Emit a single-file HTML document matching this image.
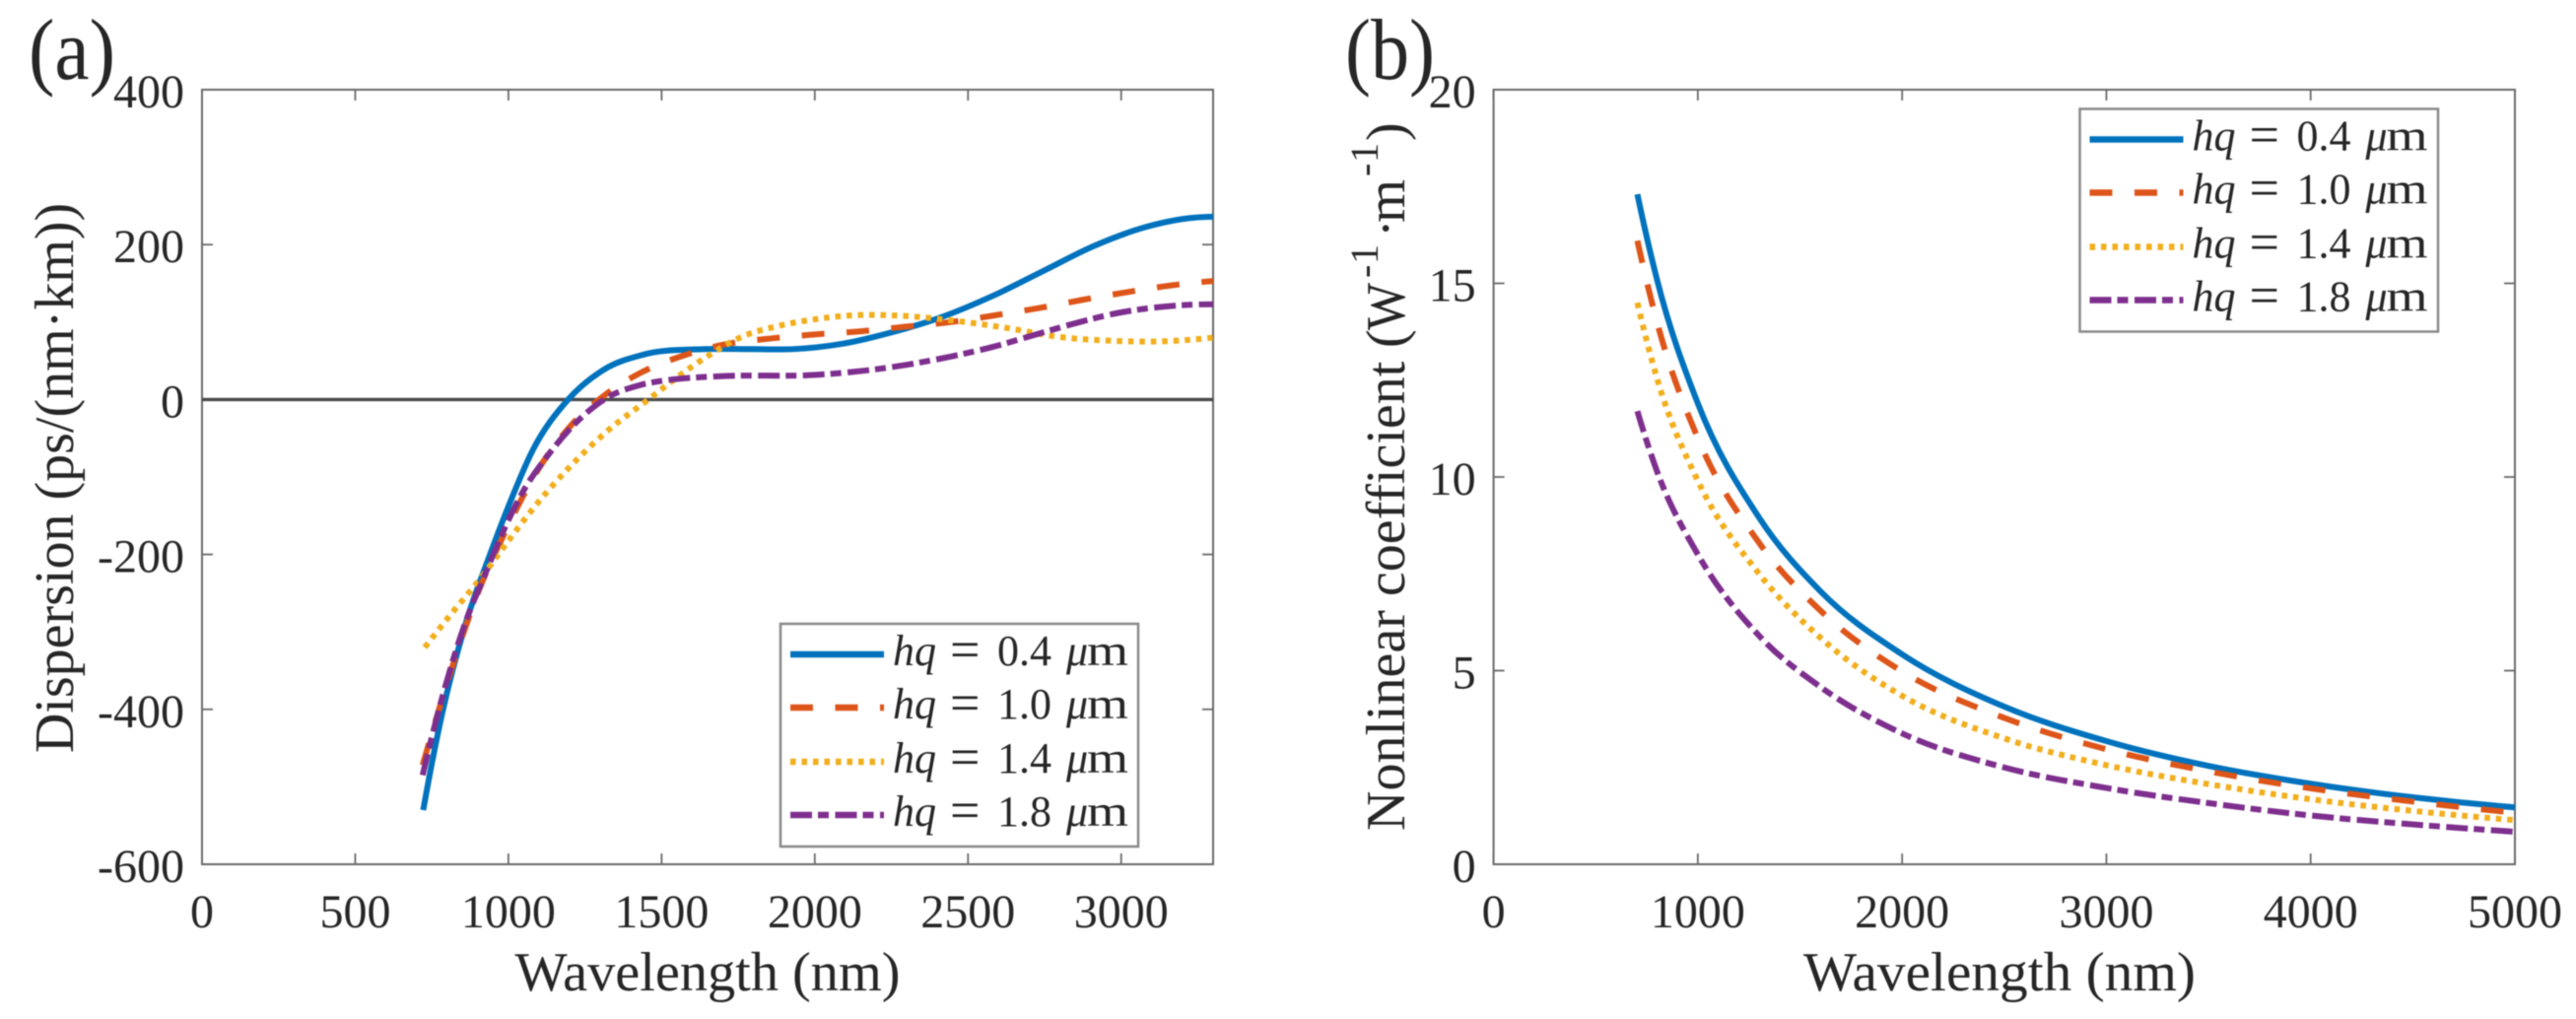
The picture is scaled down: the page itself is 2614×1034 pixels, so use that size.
<!DOCTYPE html>
<html lang="en">
<head>
<meta charset="utf-8">
<title>Dispersion and nonlinear coefficient charts</title>
<style>
html,body{margin:0;padding:0;background:#fff;}
body{width:2614px;height:1034px;overflow:hidden;}
svg{display:block;filter:blur(0.55px);}
text{font-family:"Liberation Serif","DejaVu Serif",serif;fill:#262626;}
</style>
</head>
<body>
<svg id="fig" width="2614" height="1034" viewBox="0 0 2614 1034" xmlns="http://www.w3.org/2000/svg">
  <rect x="0" y="0" width="2614" height="1034" fill="#fff"></rect>
  <text x="29" y="80" font-size="88" textLength="88" lengthAdjust="spacingAndGlyphs" fill="#1a1a1a">(a)</text>
  <text x="1365" y="80" font-size="88" textLength="91" lengthAdjust="spacingAndGlyphs" fill="#1a1a1a">(b)</text>
  <text x="718" y="1005" font-size="56" text-anchor="middle" textLength="391" lengthAdjust="spacingAndGlyphs">Wavelength (nm)</text>
  <text x="2029" y="1005" font-size="56" text-anchor="middle" textLength="398" lengthAdjust="spacingAndGlyphs">Wavelength (nm)</text>
  <text transform="translate(74,485) rotate(-90)" font-size="56" text-anchor="middle">Dispersion (ps/(nm·km))</text>
  <text transform="translate(1425,843) rotate(-90)" font-size="56"><tspan x="0" y="0">Nonlinear coefficient</tspan><tspan x="490" y="0">(</tspan><tspan x="508" y="0" textLength="48" lengthAdjust="spacingAndGlyphs">W</tspan><tspan x="561" y="-27" font-size="40">-</tspan><tspan x="575" y="-27" font-size="40">1</tspan><tspan x="602" y="0">·</tspan><tspan x="617" y="0" textLength="44" lengthAdjust="spacingAndGlyphs">m</tspan><tspan x="664" y="-27" font-size="40">-</tspan><tspan x="678" y="-27" font-size="40">1</tspan><tspan x="700" y="0">)</tspan></text>
</svg>
<script>
// ---------- Panel (a) data: dispersion, ps/(nm km) ----------
const aXTicks = [0, 500, 1000, 1500, 2000, 2500, 3000];
const aYTicks = [-600, -400, -200, 0, 200, 400];
const aBlueX = [722, 784, 860, 940, 1000, 1080, 1195, 1309, 1441, 1638, 1800, 1926, 2090, 2254, 2418, 2582, 2746, 2910, 3074, 3200, 3300];
const aBlueY = [-530, -405, -290, -200, -138, -65, 0, 38, 58, 65, 65, 65, 72, 87, 107, 134, 166, 198, 222, 233, 236];
const aOrangeX = [720, 775, 817, 907, 981, 1104, 1194, 1319, 1434, 1573, 1704, 1861, 2000, 2148, 2296, 2444, 2592, 2730, 2878, 3025, 3157, 3300];
const aOrangeY = [-472, -398, -345, -243, -178, -86, -38, 7, 35, 57, 71, 79, 84, 88, 94, 100, 109, 118, 129, 139, 147, 153];
const aYellowX = [727, 817, 907, 997, 1080, 1193, 1325, 1457, 1555, 1654, 1768, 1870, 1974, 2138, 2286, 2450, 2632, 2794, 2960, 3122, 3300];
const aYellowY = [-320, -275, -232, -184, -141, -90, -40, 0, 30, 57, 82, 94, 102, 109, 108, 102, 92, 81, 76, 75, 80];
const aPurpleX = [720, 785, 866, 915, 981, 1046, 1129, 1228, 1325, 1424, 1539, 1687, 2010, 2156, 2302, 2450, 2582, 2714, 2846, 2993, 3141, 3300];
const aPurpleY = [-485, -383, -281, -234, -172, -120, -72, -27, 3, 18, 26, 30, 32, 37, 45, 56, 68, 83, 98, 112, 120, 123];

// ---------- Panel (b) data: nonlinear coefficient, 1/(W m) ----------
const bXTicks = [0, 1000, 2000, 3000, 4000, 5000];
const bYTicks = [0, 5, 10, 15, 20];
const bBlueX = [704, 800, 1000, 1300, 1600, 2000, 2500, 3000, 3500, 4000, 4500, 5000];
const bBlueY = [17.3, 15.1, 11.9, 8.95, 7.05, 5.42, 4.07, 3.18, 2.54, 2.08, 1.73, 1.47];
const bOrangeX = [704, 800, 1000, 1300, 1600, 2000, 2500, 3000, 3500, 4000, 4500, 5000];
const bOrangeY = [16.1, 14.0, 11.0, 8.3, 6.55, 4.98, 3.78, 2.97, 2.40, 1.96, 1.62, 1.33];
const bYellowX = [704, 800, 1000, 1300, 1600, 2000, 2500, 3000, 3500, 4000, 4500, 5000];
const bYellowY = [14.5, 12.55, 9.9, 7.5, 5.85, 4.35, 3.25, 2.56, 2.07, 1.68, 1.38, 1.14];
const bPurpleX = [704, 800, 1000, 1300, 1600, 2000, 2500, 3000, 3500, 4000, 4500, 5000];
const bPurpleY = [11.7, 10.15, 8.0, 5.9, 4.58, 3.38, 2.5, 1.97, 1.58, 1.26, 1.03, 0.84];

const legendValues = ['0.4', '1.0', '1.4', '1.8'];
const seriesKeys = ['hq-0-4', 'hq-1-0', 'hq-1-4', 'hq-1-8'];

const svg = document.getElementById('fig');
const NS = 'http://www.w3.org/2000/svg';
const COLORS = ['#0072BD', '#DD5519', '#F2AE1C', '#7E2F8E'];
const DASHES = ['none', '23 22.5', '5.5 6', '22 6 11 6.5'];

function make(tag, attrs, parent) {
  const el = document.createElementNS(NS, tag);
  for (const k in attrs) el.setAttribute(k, attrs[k]);
  parent.appendChild(el);
  return el;
}
function scale(d0, d1, p0, p1) {
  return v => p0 + (v - d0) * (p1 - p0) / (d1 - d0);
}
// Hermite spline through the points, with parabolic tangents over uneven spacing
function smoothPath(px, py) {
  const n = px.length;
  const m = new Array(n);
  for (let i = 1; i < n - 1; i++) {
    const h0 = px[i] - px[i - 1], h1 = px[i + 1] - px[i];
    const d0 = (py[i] - py[i - 1]) / h0, d1 = (py[i + 1] - py[i]) / h1;
    m[i] = (h1 * d0 + h0 * d1) / (h0 + h1);
  }
  m[0] = 2 * (py[1] - py[0]) / (px[1] - px[0]) - m[1];
  m[n - 1] = 2 * (py[n - 1] - py[n - 2]) / (px[n - 1] - px[n - 2]) - m[n - 2];
  let d = 'M' + px[0].toFixed(2) + ' ' + py[0].toFixed(2);
  for (let i = 0; i < n - 1; i++) {
    const h = (px[i + 1] - px[i]) / 3;
    d += 'C' + (px[i] + h).toFixed(2) + ' ' + (py[i] + m[i] * h).toFixed(2) + ' ' +
      (px[i + 1] - h).toFixed(2) + ' ' + (py[i + 1] - m[i + 1] * h).toFixed(2) + ' ' +
      px[i + 1].toFixed(2) + ' ' + py[i + 1].toFixed(2);
  }
  return d;
}

function drawAxes(prefix, box, sx, sy, xTicks, yTicks) {
  const g = make('g', {}, svg);
  
  
  const frame = make('rect', { x: box.l, y: box.t, width: box.r - box.l, height: box.b - box.t, fill: 'none', stroke: '#6a6a6a', 'stroke-width': 2 }, g);
  
  
  xTicks.forEach(v => {
    const x = sx(v);
    const t1 = make('line', { x1: x, x2: x, y1: box.b, y2: box.b - 11, stroke: '#6a6a6a', 'stroke-width': 1.8 }, g);
    
    
    const t2 = make('line', { x1: x, x2: x, y1: box.t, y2: box.t + 11, stroke: '#6a6a6a', 'stroke-width': 1.8 }, g);
    
    
    const lab = make('text', { x: x, y: 941, 'font-size': 48, 'text-anchor': 'middle' }, g);
    
    
    lab.textContent = v;
  });
  yTicks.forEach(v => {
    const y = sy(v);
    const t1 = make('line', { x1: box.l, x2: box.l + 11, y1: y, y2: y, stroke: '#6a6a6a', 'stroke-width': 1.8 }, g);
    
    
    const t2 = make('line', { x1: box.r, x2: box.r - 11, y1: y, y2: y, stroke: '#6a6a6a', 'stroke-width': 1.8 }, g);
    
    
    const lab = make('text', { x: box.l - 18, y: y + 18, 'font-size': 48, 'text-anchor': 'end' }, g);
    
    
    lab.textContent = v;
  });
}

function drawSeries(prefix, sx, sy, xs, ys, idx) {
  const p = make('path', {
    d: smoothPath(xs.map(sx), ys.map(sy)),
    fill: 'none', stroke: COLORS[idx], 'stroke-width': 6,
    'stroke-dasharray': DASHES[idx], 'stroke-linejoin': 'round'
  }, svg);
  
  
}

function drawLegend(prefix, box) {
  const g = make('g', {}, svg);
  
  
  const bg = make('rect', { x: box.x, y: box.y, width: box.w, height: box.h, fill: '#fff', stroke: '#8a8a8a', 'stroke-width': 2.5 }, g);
  
  
  const rows = [31, 85, 140, 194];
  legendValues.forEach((val, i) => {
    const y = box.y + rows[i];
    const ln = make('line', { x1: box.x + 10, x2: box.x + 105, y1: y, y2: y, stroke: COLORS[i], 'stroke-width': 6.5, 'stroke-dasharray': DASHES[i] }, g);
    
    
    const t = make('text', { y: y + 11, 'font-size': 44, fill: '#1a1a1a' }, g);
    
    
    const a = make('tspan', { x: box.x + 114, 'font-style': 'italic' }, t);
    a.textContent = 'hq';
    const b = make('tspan', { x: box.x + 172, y: y + 13, 'font-size': 54 }, t);
    b.textContent = '=';
    const c = make('tspan', { x: box.x + 220, y: y + 11 }, t);
    c.textContent = val;
    const d = make('tspan', { x: box.x + 290, 'font-style': 'italic' }, t);
    d.textContent = 'μ';
    const e = make('tspan', { x: box.x + 311, textLength: 42, lengthAdjust: 'spacingAndGlyphs' }, t);
    e.textContent = 'm';
  });
}

// Panel (a)
const boxA = { l: 205, r: 1231, t: 91, b: 877 };
const ax = scale(0, 3300, boxA.l, boxA.r);
const ay = scale(-600, 400, boxA.b, boxA.t);
drawAxes('panel-a', boxA, ax, ay, aXTicks, aYTicks);
const zeroLine = make('line', { x1: boxA.l, x2: boxA.r, y1: ay(0), y2: ay(0), stroke: '#4a4a4a', 'stroke-width': 3.4 }, svg);


drawSeries('panel-a', ax, ay, aBlueX, aBlueY, 0);
drawSeries('panel-a', ax, ay, aOrangeX, aOrangeY, 1);
drawSeries('panel-a', ax, ay, aYellowX, aYellowY, 2);
drawSeries('panel-a', ax, ay, aPurpleX, aPurpleY, 3);
drawLegend('panel-a', { x: 792, y: 633, w: 363, h: 226 });

// Panel (b)
const boxB = { l: 1515.6, r: 2552, t: 91, b: 877 };
const bx = scale(0, 5000, boxB.l, boxB.r);
const by = scale(0, 20, boxB.b, boxB.t);
drawAxes('panel-b', boxB, bx, by, bXTicks, bYTicks);
drawSeries('panel-b', bx, by, bBlueX, bBlueY, 0);
drawSeries('panel-b', bx, by, bOrangeX, bOrangeY, 1);
drawSeries('panel-b', bx, by, bYellowX, bYellowY, 2);
drawSeries('panel-b', bx, by, bPurpleX, bPurpleY, 3);
drawLegend('panel-b', { x: 2110.5, y: 110.5, w: 363.5, h: 226 });
</script>
</body>
</html>
